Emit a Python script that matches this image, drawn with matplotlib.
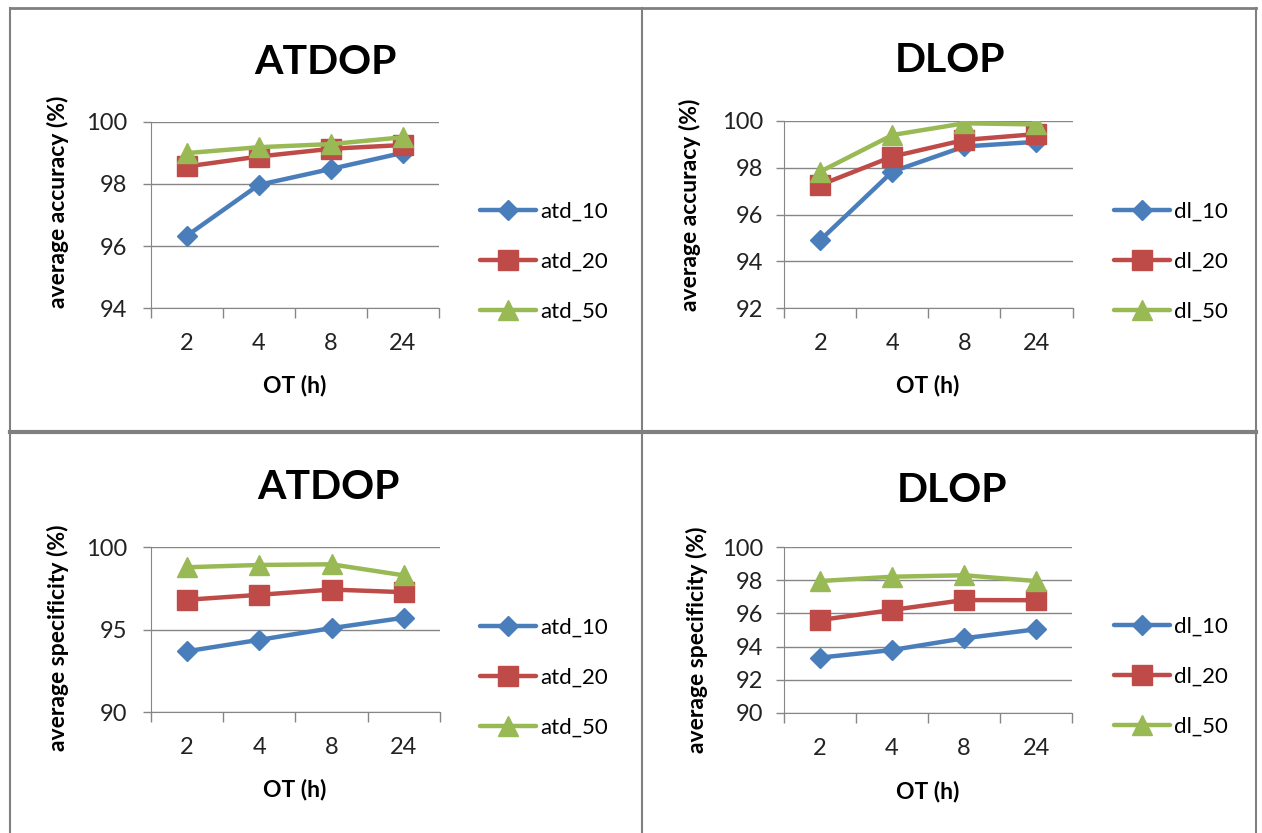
import numpy as np
import matplotlib.pyplot as plt
from matplotlib.lines import Line2D

plt.rcParams['font.family'] = ['Lato', 'DejaVu Sans']

categories = ['2', '4', '8', '24']

atd_acc_10 = [96.33, 97.97, 98.48, 99.0]
atd_acc_20 = [98.56, 98.88, 99.13, 99.25]
atd_acc_50 = [98.99, 99.18, 99.28, 99.5]

dl_acc_10 = [94.91, 97.83, 98.9, 99.1]
dl_acc_20 = [97.26, 98.47, 99.18, 99.43]
dl_acc_50 = [97.83, 99.39, 99.89, 99.84]

atd_spec_10 = [93.7, 94.39, 95.1, 95.73]
atd_spec_20 = [96.82, 97.12, 97.44, 97.28]
atd_spec_50 = [98.79, 98.93, 98.97, 98.3]

dl_spec_10 = [93.33, 93.79, 94.5, 95.04]
dl_spec_20 = [95.6, 96.21, 96.81, 96.8]
dl_spec_50 = [97.96, 98.22, 98.31, 97.96]

W, H = 1262, 833
BLUE = '#4a7ebb'
RED = '#be4b48'
GREEN = '#98b954'
GRID = '#868686'

fig = plt.figure(figsize=(W / 100, H / 100), dpi=100)


def px_rect(l, t, r, b):
    return [l / W, 1 - b / H, (r - l) / W, (b - t) / H]


def fxy(x, y):
    return x / W, 1 - y / H


# panel frames
for x in [10, 642, 1256]:
    fig.add_artist(Line2D([x / W, x / W], [0, 1 - 8 / H], color='#808080', lw=1.5))
for y, lw in [(8, 2.0), (432, 3.0)]:
    fig.add_artist(Line2D([10 / W, 1256 / W], [1 - y / H, 1 - y / H], color='#808080', lw=lw))


def panel(rect, ylim, yticks, series, names, title, title_xy, ylabel, ylabel_xy,
          xlabel_xy, legend_xy, ypad):
    ax = fig.add_axes(px_rect(*rect))
    x = np.arange(len(categories))
    markers = ['D', 's', '^']
    msizes = [10.5, 15, 14.5]
    colors = [BLUE, RED, GREEN]
    for vals, name, m, ms, c in zip(series, names, markers, msizes, colors):
        ax.plot(x, vals, color=c, lw=3.2, marker=m, markersize=ms, label=name,
                solid_capstyle='round', zorder=3)
    ax.set_xlim(-0.5, len(categories) - 0.5)
    ax.set_ylim(*ylim)
    ax.set_yticks(yticks)
    ax.set_yticklabels([str(t) for t in yticks], fontsize=17, color='#222222')
    ax.set_xticks(np.arange(len(categories) + 1) - 0.5)
    ax.set_xticklabels([])
    ax.set_xticks(x, minor=True)
    ax.set_xticklabels(categories, minor=True, fontsize=17, color='#222222')
    ax.tick_params(axis='x', which='major', length=7, color=GRID, width=1)
    ax.tick_params(axis='x', which='minor', length=0, pad=18)
    ax.tick_params(axis='y', length=6, color=GRID, width=1, pad=ypad)
    ax.yaxis.grid(True, color=GRID, lw=1)
    ax.set_axisbelow(True)
    for s in ['top', 'right']:
        ax.spines[s].set_visible(False)
    for s in ['left', 'bottom']:
        ax.spines[s].set_color(GRID)
    fig.text(*fxy(*title_xy), title, fontsize=29.5, fontweight='bold', ha='center', va='center')
    fig.text(*fxy(*ylabel_xy), ylabel, fontsize=16.5, fontweight='bold', rotation=90,
             ha='center', va='center')
    fig.text(*fxy(*xlabel_xy), 'OT (h)', fontsize=16.5, fontweight='bold', ha='center', va='center')
    ax.legend(loc='center left', bbox_to_anchor=fxy(*legend_xy), bbox_transform=fig.transFigure,
              frameon=False, fontsize=16, handlelength=2.5, labelspacing=1.35,
              handletextpad=0.2, borderpad=0, borderaxespad=0)
    return ax


panel((150.7, 121.7, 439, 308.3), (94, 100), [94, 96, 98, 100],
      [atd_acc_10, atd_acc_20, atd_acc_50], ['atd_10', 'atd_20', 'atd_50'],
      'ATDOP', (325, 62), 'average accuracy (%)', (58, 202), (295, 386), (480, 262), 11)

panel((784.3, 120.7, 1072.5, 308.3), (92, 100), [92, 94, 96, 98, 100],
      [dl_acc_10, dl_acc_20, dl_acc_50], ['dl_10', 'dl_20', 'dl_50'],
      'DLOP', (950, 60), 'average accuracy (%)', (690, 205), (928, 386), (1114, 262), 9)

panel((150.7, 547.3, 440, 712.3), (90, 100), [90, 95, 100],
      [atd_spec_10, atd_spec_20, atd_spec_50], ['atd_10', 'atd_20', 'atd_50'],
      'ATDOP', (328, 488), 'average specificity (%)', (58, 638), (295, 790), (480, 678), 11)

panel((784, 547.3, 1072, 712.7), (90, 100), [90, 92, 94, 96, 98, 100],
      [dl_spec_10, dl_spec_20, dl_spec_50], ['dl_10', 'dl_20', 'dl_50'],
      'DLOP', (952, 490), 'average specificity (%)', (697, 640), (928, 792), (1114, 677), 9)

fig.savefig('out.png', dpi=100)
